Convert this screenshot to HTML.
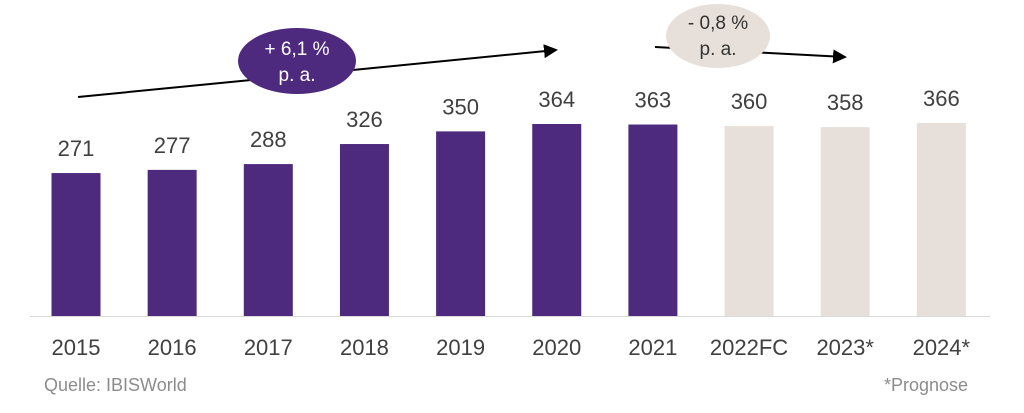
<!DOCTYPE html>
<html><head><meta charset="utf-8"><style>
body{margin:0;background:#fff;}
svg{display:block;font-family:"Liberation Sans",sans-serif;}
</style></head><body>
<svg id="c" width="1024" height="413">
<defs><marker id="ah" markerWidth="14" markerHeight="14" refX="12" refY="7" orient="auto" markerUnits="userSpaceOnUse"><path d="M0,0 L14,7 L0,14 Z" fill="#000"/></marker></defs>
<line x1="78" y1="97" x2="556" y2="50" stroke="#000" stroke-width="2" marker-end="url(#ah)"/>
<ellipse cx="297" cy="61" rx="59" ry="33" fill="#4e2a7e"/>
<text x="297" y="55" fill="#fff" font-size="19" text-anchor="middle">+ 6,1 %</text>
<text x="297" y="81" fill="#fff" font-size="19" text-anchor="middle">p. a.</text>
<line x1="655" y1="47" x2="845" y2="57" stroke="#000" stroke-width="2" marker-end="url(#ah)"/>
<ellipse cx="718" cy="36" rx="52" ry="32" fill="#e7e0da"/>
<text x="718" y="29" fill="#333" font-size="19" text-anchor="middle">- 0,8 %</text>
<text x="718" y="55" fill="#333" font-size="19" text-anchor="middle">p. a.</text>
<line x1="30" y1="316.5" x2="990" y2="316.5" stroke="#d9d9d9" stroke-width="1"/>
<text x="44" y="391" fill="#8c8c8c" font-size="18">Quelle: IBISWorld</text>
<text x="968" y="391" fill="#8c8c8c" font-size="18" text-anchor="end">*Prognose</text>
</svg>
<script>
const categories=["2015","2016","2017","2018","2019","2020","2021","2022FC","2023*","2024*"];
const values=[271,277,288,326,350,364,363,360,358,366];
const forecast=[false,false,false,false,false,false,false,true,true,true];
const svg=document.getElementById('c');
const NS='http://www.w3.org/2000/svg';
const base=316, k=0.5275, x0=76, step=96.15, bw=49;
const xPos=i=>x0+i*step;
const yPos=v=>base-v*k;
categories.forEach((c,i)=>{
  const r=document.createElementNS(NS,'rect');
  r.setAttribute('x',xPos(i)-bw/2);r.setAttribute('y',yPos(values[i]));
  r.setAttribute('width',bw);r.setAttribute('height',base-yPos(values[i]));
  r.setAttribute('fill',forecast[i]?'#e7e0da':'#4e2a7e');
  
  
  svg.appendChild(r);
  const t=document.createElementNS(NS,'text');
  t.setAttribute('x',xPos(i));t.setAttribute('y',yPos(values[i])-17);
  t.setAttribute('text-anchor','middle');t.setAttribute('font-size','22');t.setAttribute('fill','#404040');
  t.textContent=values[i];
  
  
  svg.appendChild(t);
  const l=document.createElementNS(NS,'text');
  l.setAttribute('x',xPos(i));l.setAttribute('y',355);
  l.setAttribute('text-anchor','middle');l.setAttribute('font-size','22');l.setAttribute('fill','#404040');
  l.textContent=c;
  
  
  svg.appendChild(l);
});
</script>
</body></html>
